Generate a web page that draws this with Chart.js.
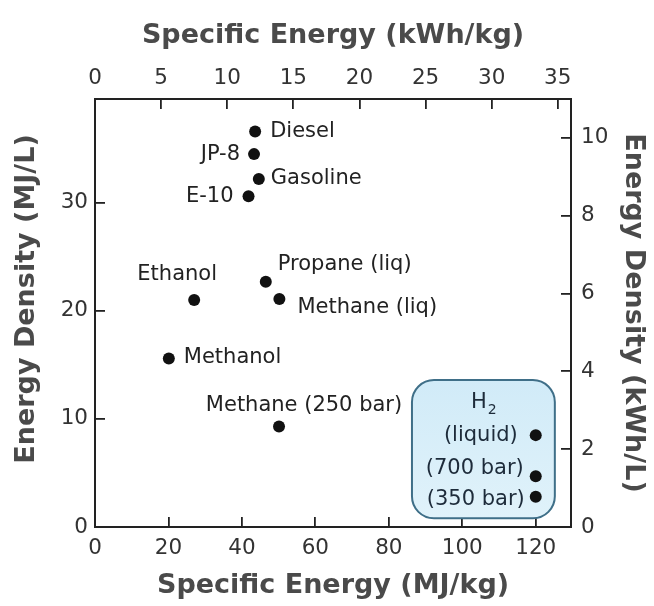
<!DOCTYPE html>
<html>
<head>
<meta charset="utf-8">
<script src="https://cdn.jsdelivr.net/npm/chart.js@4.4.1/dist/chart.umd.min.js"></script>
<style>
  html, body { margin: 0; padding: 0; background: #fff; }
  #wrap { width: 654px; height: 606px; }
</style>
</head>
<body>
<div id="wrap"><canvas id="chart" width="654" height="606"></canvas></div>
<script>
// fuel data (MJ/kg, MJ/L)
const fuels = ["Diesel", "JP-8", "Gasoline", "E-10", "Ethanol", "Propane (liq)", "Methane (liq)",
  "Methanol", "Methane (250 bar)", "(liquid)", "(700 bar)", "(350 bar)"];
const specificEnergy = [43.6, 43.3, 44.6, 41.8, 27.0, 46.5, 50.2, 20.1, 50.1, 120, 120, 120];
const energyDensity = [36.6, 34.5, 32.2, 30.6, 21.0, 22.7, 21.1, 15.6, 9.3, 8.5, 4.7, 2.8];

// axis ticks
const ticksMJkg = [0, 20, 40, 60, 80, 100, 120];
const ticksKWhkg = [0, 5, 10, 15, 20, 25, 30, 35];
const ticksMJL = [0, 10, 20, 30];
const ticksKWhL = [0, 2, 4, 6, 8, 10];

const MJ_PER_KWH = 3.6;
const X_MAX = 129.6;
const Y_MAX = 39.6;

const FONT = "'DejaVu Sans', sans-serif";
const INK = "#222";
const H2_INK = "#1d2b3a";

// where each label sits relative to its dot: [dx, dy, align]
const labelPlace = {
  "Diesel": [15, 0, "left"],
  "JP-8": [-14, 0, "right"],
  "Gasoline": [12, 0, "left"],
  "E-10": [-15, 0, "right"],
  "Ethanol": [-17, -25, "center"],
  "Propane (liq)": [12, -17, "left"],
  "Methane (liq)": [18, 9, "left"],
  "Methanol": [15, -1, "left"],
  "Methane (250 bar)": [25, -21, "center"],
  "(liquid)": [-18, 0, "right"],
  "(700 bar)": [-12, -8, "right"],
  "(350 bar)": [-11, 3, "right"],
};
const h2Labels = ["(liquid)", "(700 bar)", "(350 bar)"];

// hydrogen box, in data units
const h2Box = { x0: 86.3, x1: 125.2, y0: 0.8, y1: 13.6, r: 22 };

const h2BoxPlugin = {
  id: "h2Box",
  beforeDatasetsDraw(chart) {
    const { ctx, scales: { x, y } } = chart;
    const l = x.getPixelForValue(h2Box.x0), r = x.getPixelForValue(h2Box.x1);
    const t = y.getPixelForValue(h2Box.y1), b = y.getPixelForValue(h2Box.y0);
    ctx.save();
    ctx.beginPath();
    ctx.roundRect(l, t, r - l, b - t, h2Box.r);
    const grad = ctx.createLinearGradient(0, t, 0, b);
    grad.addColorStop(0, "#d1ebf8");
    grad.addColorStop(1, "#e0f2fa");
    ctx.fillStyle = grad;
    ctx.fill();
    ctx.lineWidth = 2;
    ctx.strokeStyle = "#3f6f88";
    ctx.stroke();
    // H2 heading
    const cx = (l + r) / 2, cy = t + 23;
    ctx.fillStyle = H2_INK;
    ctx.textBaseline = "middle";
    ctx.font = "21px " + FONT;
    const hw = ctx.measureText("H").width;
    ctx.font = "14px " + FONT;
    const sw = ctx.measureText("2").width;
    ctx.textAlign = "left";
    ctx.font = "21px " + FONT;
    ctx.fillText("H", cx - (hw + sw) / 2, cy);
    ctx.font = "14px " + FONT;
    ctx.fillText("2", cx - (hw + sw) / 2 + hw + 1, cy + 7);
    ctx.restore();
  },
};

const pointLabelPlugin = {
  id: "pointLabels",
  afterDatasetsDraw(chart) {
    const { ctx } = chart;
    const meta = chart.getDatasetMeta(0);
    ctx.save();
    ctx.font = "21px " + FONT;
    ctx.textBaseline = "middle";
    meta.data.forEach((pt, i) => {
      const name = fuels[i];
      const [dx, dy, align] = labelPlace[name];
      ctx.textAlign = align;
      ctx.fillStyle = h2Labels.includes(name) ? H2_INK : INK;
      ctx.fillText(name, pt.x + dx, pt.y + dy);
    });
    ctx.restore();
  },
};

// left title sits a bit above the middle of the axis in the original
const leftTitlePlugin = {
  id: "leftTitle",
  afterDraw(chart) {
    const { ctx } = chart;
    ctx.save();
    ctx.translate(27, 299);
    ctx.rotate(-Math.PI / 2);
    ctx.font = "bold 27px " + FONT;
    ctx.fillStyle = "#4a4a4a";
    ctx.textAlign = "center";
    ctx.textBaseline = "middle";
    ctx.fillText("Energy Density (MJ/L)", 0, 0);
    ctx.restore();
  },
};

function fixedTicks(values) {
  return scale => { scale.ticks = values.map(v => ({ value: v })); };
}

function axis(position, max, tickValues, size, tickPad, titleText, titlePad) {
  return {
    type: "linear",
    position,
    min: 0,
    max,
    afterBuildTicks: fixedTicks(tickValues),
    afterFit: s => {
      if (s.isHorizontal()) s.height = size; else s.width = size;
    },
    grid: { drawOnChartArea: false, tickLength: -10, color: "#222", lineWidth: 1.8 },
    border: { display: true, color: "#222", width: 2 },
    ticks: { color: "#333", padding: tickPad, font: { family: FONT, size: 21.5 }, includeBounds: false },
    title: {
      display: !!titleText,
      text: titleText,
      padding: titlePad,
      color: "#4a4a4a",
      font: { family: FONT, size: 27, weight: "bold" },
    },
  };
}

const scales = {
  x: axis("bottom", X_MAX, ticksMJkg, 606 - 527, 19, "Specific Energy (MJ/kg)", { top: 0, bottom: 4 }),
  x2: axis("top", X_MAX / MJ_PER_KWH, ticksKWhkg, 99, 18, "Specific Energy (kWh/kg)", { top: 20, bottom: 0 }),
  y: axis("left", Y_MAX, ticksMJL, 95, 17, "", { top: 10, bottom: 0 }),
  y2: axis("right", Y_MAX / MJ_PER_KWH, ticksKWhL, 654 - 571, 20, "Energy Density (kWh/L)", { top: 5, bottom: 0 }),
};

new Chart(document.getElementById("chart").getContext("2d"), {
  type: "scatter",
  data: {
    datasets: [{
      data: specificEnergy.map((v, i) => ({ x: v, y: energyDensity[i] })),
      backgroundColor: "#111",
      borderWidth: 0,
      pointRadius: 6,
      xAxisID: "x",
      yAxisID: "y",
    }],
  },
  options: {
    responsive: false,
    animation: false,
    layout: { padding: 0 },
    plugins: { legend: { display: false }, tooltip: { enabled: false } },
    scales,
  },
  plugins: [h2BoxPlugin, pointLabelPlugin, leftTitlePlugin],
});
</script>
</body>
</html>
